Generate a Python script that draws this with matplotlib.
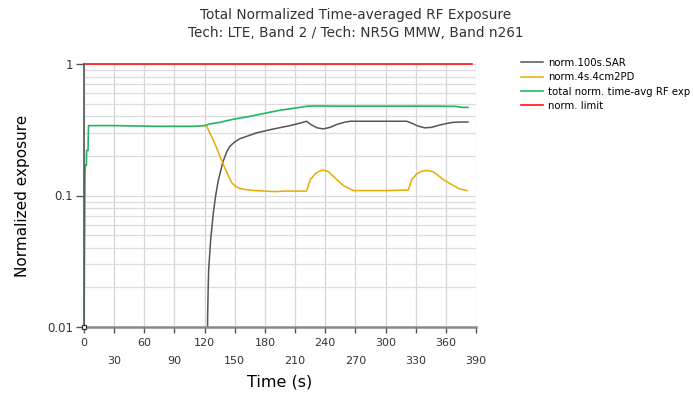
import numpy as np
import matplotlib
matplotlib.use("Agg")
import matplotlib.pyplot as plt
from matplotlib.ticker import FixedLocator, LogLocator, NullFormatter

# time axis ticks (s)
x_ticks = [0, 30, 60, 90, 120, 150, 180, 210, 240, 270, 300, 330, 360, 390]
y_ticks = [0.01, 0.1, 1]
y_tick_labels = ["0.01", "0.1", "1"]

# norm.100s.SAR
t_sar = [122.5, 123, 123.5, 124, 126, 128.7, 131, 133.6, 138, 142, 145, 150, 155,
         172, 188, 205, 215, 221.5, 226, 232, 238, 245, 252, 260, 265, 290, 321,
         326, 332, 339, 346, 353, 360, 367, 375, 382]
sar = [0.001, 0.012, 0.019, 0.027, 0.046, 0.074, 0.1, 0.13, 0.178, 0.215, 0.236, 0.256, 0.27,
       0.30, 0.32, 0.34, 0.355, 0.367, 0.345, 0.327, 0.321, 0.33, 0.348, 0.362, 0.367, 0.367, 0.367,
       0.355, 0.338, 0.327, 0.33, 0.342, 0.352, 0.36, 0.362, 0.362]

# norm.4s.4cm2PD
t_pd = [122, 126, 130, 134, 138, 142, 147, 151, 155, 160, 170, 180, 190, 200, 210, 221.5,
        225, 230, 234, 238, 243, 248, 258, 268, 280, 300, 322.7, 326, 331, 336, 341, 347,
        352, 357.5, 367.5, 374, 381]
pd_ = [0.337, 0.29, 0.25, 0.21, 0.177, 0.15, 0.125, 0.117, 0.113, 0.111, 0.109, 0.108, 0.107,
       0.108, 0.108, 0.108, 0.132, 0.146, 0.153, 0.156, 0.152, 0.14, 0.119, 0.109, 0.109, 0.109,
       0.11, 0.132, 0.146, 0.153, 0.155, 0.152, 0.143, 0.132, 0.119, 0.112, 0.109]

# total norm. time-avg RF exp
t_total = [0, 0.8, 1.0, 1.4, 2.4, 2.6, 4.0, 4.5, 10, 30, 50, 70, 90, 110, 120, 125, 135,
           148.6, 165, 181.8, 195, 210, 221.6, 230, 250, 270, 290, 310, 330, 350, 370, 376, 382]
total = [0.0105, 0.083, 0.15, 0.17, 0.17, 0.22, 0.22, 0.34, 0.34, 0.34, 0.338, 0.336, 0.336, 0.336,
         0.34, 0.35, 0.36, 0.38, 0.40, 0.425, 0.445, 0.462, 0.477, 0.48, 0.478, 0.478, 0.478,
         0.478, 0.478, 0.478, 0.476, 0.468, 0.468]

# norm. limit
t_limit = [0, 386]
limit = [1, 1]

plt.rcParams['font.family'] = 'DejaVu Sans'
fig = plt.figure(figsize=(6.93, 3.95), dpi=100)
ax = fig.add_axes([84 / 693, 1 - 327 / 395, 392 / 693, 263 / 395])

ax.plot(t_sar, sar, color='#555555', lw=1.1, label='norm.100s.SAR')
ax.plot(t_pd, pd_, color='#e8ab00', lw=1.1, label='norm.4s.4cm2PD')
ax.plot(t_total, total, color='#22b65e', lw=1.2, label='total norm. time-avg RF exp')
ax.plot(t_limit, limit, color='#ff1010', lw=1.2, label='norm. limit', clip_on=False)
ax.plot(t_total[0], 0.01, marker='s', ms=3.5, mfc='white', mec='#333333', mew=0.9,
        clip_on=False, zorder=5)

ax.set_yscale('log')
ax.set_xlim(0, 390)
ax.set_ylim(0.01, 1)

ax.xaxis.set_major_locator(FixedLocator(x_ticks))
ax.set_xticklabels([str(v) if i % 2 == 0 else "\n" + str(v) for i, v in enumerate(x_ticks)])
for lbl in ax.get_xticklabels():
    lbl.set_linespacing(1.95)
ax.yaxis.set_major_locator(FixedLocator(y_ticks))
ax.set_yticklabels(y_tick_labels)
ax.yaxis.set_minor_locator(LogLocator(base=10, subs=np.arange(2, 10)))
ax.yaxis.set_minor_formatter(NullFormatter())

ax.grid(axis='x', which='major', color='#d6d6d6', lw=0.9)
ax.grid(axis='y', which='minor', color='#dcdcdc', lw=0.9)
ax.grid(axis='y', which='major', color='#dcdcdc', lw=0.9)
ax.set_axisbelow(True)

for s in ['top', 'right']:
    ax.spines[s].set_visible(False)
ax.spines['left'].set_color('#555555')
ax.spines['left'].set_linewidth(1.2)
ax.spines['bottom'].set_color('#888888')
ax.spines['bottom'].set_linewidth(1.8)

ax.tick_params(axis='x', which='major', length=4, width=1, color='#555555',
               labelsize=8, labelcolor='#333333', pad=4)
ax.tick_params(axis='y', which='major', length=6, width=1, color='#555555',
               labelsize=8.5, labelcolor='#333333', pad=2)
ax.tick_params(axis='y', which='minor', length=0)

ax.set_xlabel('Time (s)', fontsize=11.5, labelpad=6)
ax.set_ylabel('Normalized exposure', fontsize=11, labelpad=12)

fig.text(356 / 693, 1 - 24 / 395, 'Total Normalized Time-averaged RF Exposure\n'
         'Tech: LTE, Band 2 / Tech: NR5G MMW, Band n261',
         ha='center', va='center', fontsize=9.8, color='#333333', linespacing=1.35)

fig.legend(loc='upper left', bbox_to_anchor=(521 / 693, 1 - 58 / 395), frameon=False,
           fontsize=7.3, handlelength=2.2, handletextpad=0.5, labelspacing=0.42,
           borderaxespad=0, borderpad=0)

fig.savefig('out.png', dpi=100)
